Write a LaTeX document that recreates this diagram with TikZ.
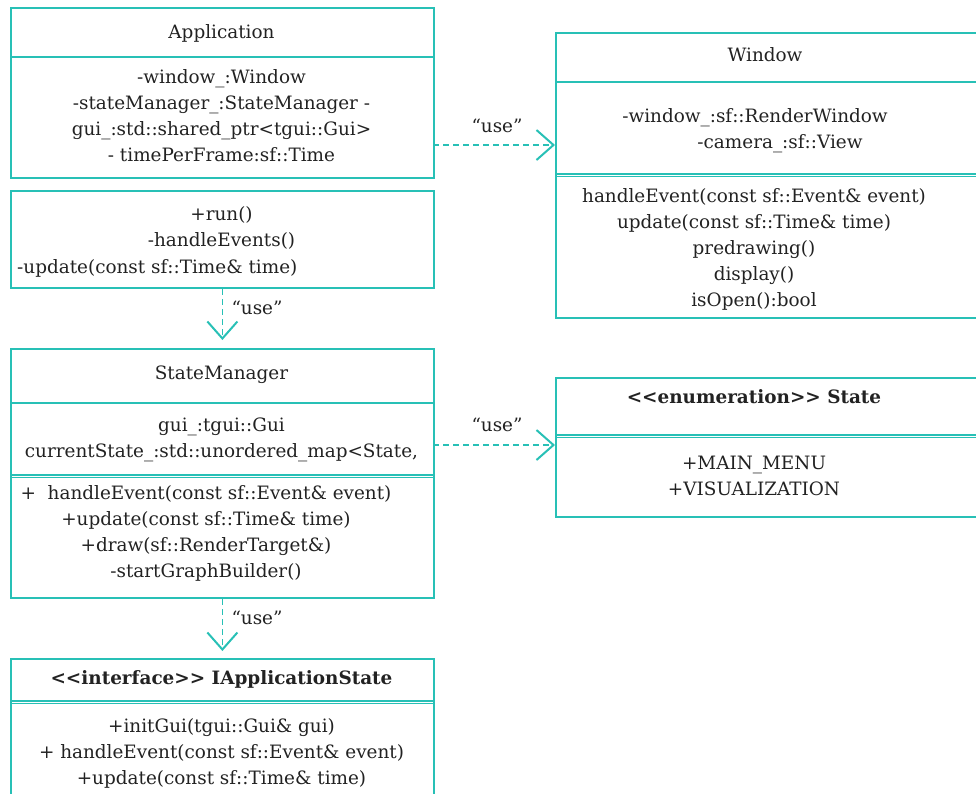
\documentclass[tikz,border=0pt]{standalone}
\usepackage{fontspec}
\setmainfont{DejaVu Serif}
\usetikzlibrary{arrows.meta}
\definecolor{tealc}{RGB}{40,192,182}
\definecolor{txtc}{RGB}{34,34,34}
\begin{document}
\begin{tikzpicture}[x=1pt,y=-1pt,
  umlbox/.style={draw=tealc, line width=1.8pt, rectangle, inner sep=0pt, anchor=north west},
  sepline/.style={draw=tealc, line width=1.8pt},
  txt/.style={text=txtc, font=\fontsize{18.4}{26}\selectfont, inner sep=0pt, align=center},
  boldtxt/.style={txt, font=\fontsize{18.4}{26}\selectfont\bfseries},
  dep/.style={draw=tealc, line width=1.2pt, dash pattern=on 6pt off 4pt,
     -{Straight Barb[length=17pt,width=30pt,line width=2pt]}}
]
\useasboundingbox (0,0) rectangle (976,793);
\clip (0,0) rectangle (976,793);

% ---------- Application ----------
\node[umlbox, minimum width=423pt, minimum height=170pt] (app) at (10,7) {};
\draw[sepline] (10,57) -- (433,57);
\node[txt] (apptitle) at (221.5,33) {Application};
\node[txt] (appattr) at (221.5,116) {-window\_:Window\\-stateManager\_:StateManager -\\gui\_:std::shared\_ptr<tgui::Gui>\\- timePerFrame:sf::Time};

\node[umlbox, minimum width=423pt, minimum height=97pt] (appm) at (10,190) {};
\node[txt] (appm1) at (221.5,228) {+run()\\-handleEvents()};
\node[txt, anchor=west] (appm2) at (17,268) {-update(const sf::Time\& time)};

% ---------- Window ----------
\node[umlbox, minimum width=445pt, minimum height=285pt] (win) at (555,32) {};
\draw[sepline] (555,82) -- (1000,82);
\draw[sepline] (555,174) -- (1000,174);
\draw[sepline] (555,176.5) -- (1000,176.5);
\node[txt] (wintitle) at (765,55) {Window};
\node[txt] (winattr1) at (755,118) {-window\_:sf::RenderWindow};
\node[txt] (winattr2) at (780,144) {-camera\_:sf::View};
\node[txt] (winm) at (754,249) {handleEvent(const sf::Event\& event)\\update(const sf::Time\& time)\\predrawing()\\display()\\isOpen():bool};

% ---------- StateManager ----------
\node[umlbox, minimum width=423pt, minimum height=249pt] (sm) at (10,348) {};
\draw[sepline] (10,403) -- (433,403);
\draw[sepline] (10,475) -- (433,475);
\draw[sepline] (10,477.5) -- (433,477.5);
\node[txt] (smtitle) at (221.5,375) {StateManager};
\node[txt] (smattr) at (221.5,440) {gui\_:tgui::Gui\\currentState\_:std::unordered\_map<State,};
\node[txt] (smm) at (206,533) {+\ \ handleEvent(const sf::Event\& event)\\+update(const sf::Time\& time)\\+draw(sf::RenderTarget\&)\\-startGraphBuilder()};

% ---------- State enumeration ----------
\node[umlbox, minimum width=445pt, minimum height=139pt] (st) at (555,377) {};
\draw[sepline] (555,435) -- (1000,435);
\draw[sepline] (555,437.5) -- (1000,437.5);
\node[boldtxt] (sttitle) at (754,397) {<\kern0pt<enumeration>\kern0pt> State};
\node[txt] (stitems) at (754,476) {+MAIN\_MENU\\+VISUALIZATION};

% ---------- IApplicationState ----------
\node[umlbox, minimum width=423pt, minimum height=160pt] (ias) at (10,658) {};
\draw[sepline] (10,701) -- (433,701);
\draw[sepline] (10,703.5) -- (433,703.5);
\node[boldtxt] (iastitle) at (221.5,679) {<\kern0pt<interface>\kern0pt> IApplicationState};
\node[txt] (iasm) at (221.5,753) {+initGui(tgui::Gui\& gui)\\+ handleEvent(const sf::Event\& event)\\+update(const sf::Time\& time)};

% ---------- connectors ----------
\coordinate (c1) at (433,145);
\coordinate (c2) at (433,445);
\draw[dep] (c1) -- (c1 -| win.west);
\draw[dep] (c2) -- (c2 -| st.west);
\draw[dep, shorten >=8pt] (appm.south) -- (sm.north);
\draw[dep, shorten >=7pt] (sm.south) -- (ias.north);

\node[txt] (u1) at (497,126) {“use”};
\node[txt] (u2) at (497,425) {“use”};
\node[txt] (u3) at (257,308) {“use”};
\node[txt] (u4) at (257,618) {“use”};
\end{tikzpicture}
\end{document}
